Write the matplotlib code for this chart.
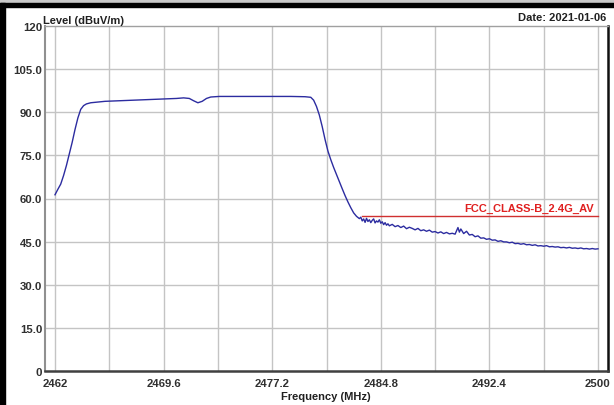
import matplotlib
matplotlib.use("Agg")
import matplotlib.pyplot as plt
from matplotlib.patches import Rectangle

plt.rcParams['font.family'] = ['Liberation Sans', 'DejaVu Sans']

# measured trace (MHz, dBuV/m)
freq = [2462.0, 2462.2, 2462.4, 2462.6, 2462.8, 2463.0, 2463.2, 2463.4, 2463.6, 2463.8,
        2464.0, 2464.2, 2464.5, 2464.9, 2465.5, 2466.5, 2467.5, 2468.5, 2469.5, 2470.5,
        2471.0, 2471.4, 2471.7, 2472.0, 2472.3, 2472.6, 2472.9, 2473.5, 2475.0, 2477.0,
        2478.5, 2479.5, 2479.9, 2480.1, 2480.3, 2480.5, 2480.7, 2480.9, 2481.1, 2481.3,
        2481.5, 2481.7, 2481.9, 2482.1, 2482.3, 2482.5, 2482.7, 2482.9, 2483.1, 2483.3,
        2483.4, 2483.5, 2483.6, 2483.7, 2483.8, 2483.9, 2484.0, 2484.1, 2484.2, 2484.3,
        2484.4, 2484.5, 2484.6, 2484.7, 2484.8, 2484.9, 2485.0, 2485.1, 2485.2, 2485.3,
        2485.4, 2485.6, 2485.8, 2486.0, 2486.2, 2486.4, 2486.6, 2486.8, 2487.0, 2487.2,
        2487.4, 2487.6, 2487.8, 2488.0, 2488.2, 2488.4, 2488.6, 2488.8, 2489.0, 2489.2,
        2489.4, 2489.6, 2489.8, 2490.0, 2490.2, 2490.3, 2490.4, 2490.6, 2490.8, 2491.0,
        2491.2, 2491.4, 2491.6, 2491.8, 2492.0, 2492.2, 2492.4, 2492.6, 2492.8, 2493.0,
        2493.2, 2493.4, 2493.6, 2493.8, 2494.0, 2494.2, 2494.4, 2494.6, 2494.8, 2495.0,
        2495.2, 2495.4, 2495.6, 2495.8, 2496.0, 2496.2, 2496.4, 2496.6, 2496.8, 2497.0,
        2497.2, 2497.4, 2497.6, 2497.8, 2498.0, 2498.2, 2498.4, 2498.6, 2498.8, 2499.0,
        2499.2, 2499.4, 2499.6, 2499.8, 2500.0]
level = [61.3, 63.2, 65.0, 68.0, 71.5, 75.5, 79.5, 84.0, 88.0, 91.0,
         92.3, 92.9, 93.3, 93.5, 93.8, 94.0, 94.2, 94.4, 94.6, 94.8,
         95.0, 94.8, 94.0, 93.3, 93.8, 94.8, 95.3, 95.5, 95.5, 95.5,
         95.5, 95.4, 95.2, 94.2, 92.0, 89.0, 85.0, 80.5, 76.5, 73.5,
         70.8, 68.3, 65.8, 63.4, 61.0, 58.8, 56.8, 55.0, 53.8, 53.0,
         53.5, 52.2, 52.9, 51.7, 53.1, 52.0, 52.6, 51.6, 52.4, 52.9,
         51.5, 52.2, 51.8, 52.6, 51.4, 51.9, 50.9, 51.6, 50.7, 51.2,
         50.5, 51.0, 50.2, 50.6, 49.9, 50.4, 49.5, 50.0, 49.6, 49.1,
         49.6, 48.8, 49.1, 48.6, 49.0, 48.3, 48.5, 48.0, 48.4, 47.8,
         48.2, 47.7, 47.9, 47.6, 49.9, 48.3, 49.4, 47.8, 48.6, 47.3,
         47.5, 46.7, 47.0, 46.2, 46.3, 45.8, 46.0, 45.5, 45.6, 45.1,
         45.3, 44.9, 44.9, 44.6, 44.8, 44.3, 44.4, 44.1, 44.3, 43.9,
         44.0, 43.7, 43.9, 43.5, 43.6, 43.4, 43.6, 43.2, 43.3, 43.1,
         43.2, 42.9, 43.0, 42.8, 43.0, 42.7, 42.8, 42.6, 42.8, 42.5,
         42.6, 42.4, 42.6, 42.4, 42.5]

limit_freq = [2483.5, 2500.0]
limit_level = [54.0, 54.0]
limit_name = "FCC_CLASS-B_2.4G_AV"

xticks = [2462, 2469.6, 2477.2, 2484.8, 2492.4, 2500]
xgrid = [2462 + 3.8 * k for k in range(11)]
yticks = [0, 15, 30, 45, 60, 75, 90, 105, 120]
ylabels = ["0", "15.0", "30.0", "45.0", "60.0", "75.0", "90.0", "105.0", "120"]

fig = plt.figure(figsize=(6.14, 4.06), dpi=100)
ax = fig.add_axes([45 / 614, 34 / 406, 563 / 614, 345 / 406])

pad = 0.7
ax.set_xlim(2462 - pad, 2500 + pad)
ax.set_ylim(0, 120)

for x in xgrid:
    ax.plot([x, x], [0, 120], color="#c4c4c4", lw=1.0, zorder=1)
for y in yticks[1:-1]:
    ax.plot([2462 - pad, 2500], [y, y], color="#c4c4c4", lw=1.0, zorder=1)

ax.plot(freq, level, color="#2c2ca0", lw=1.0, zorder=3)
ax.plot(limit_freq, limit_level, color="#d03030", lw=1.0, zorder=2)
ax.text(2499.7, 55.0, limit_name, color="#e02020", fontsize=8, fontweight="bold",
        ha="right", va="bottom")

ax.set_xticks(xticks)
ax.set_xticklabels(["2462", "2469.6", "2477.2", "2484.8", "2492.4", "2500"])
ax.set_yticks(yticks)
ax.set_yticklabels(ylabels)
ax.tick_params(length=0, labelsize=8.2, labelcolor="#303030")
ax.tick_params(axis="x", pad=5)
ax.tick_params(axis="y", pad=2)
for lab in ax.get_xticklabels() + ax.get_yticklabels():
    lab.set_fontweight("bold")

ax.spines["left"].set_color("#909090")
ax.spines["left"].set_linewidth(1.5)
ax.spines["top"].set_color("#a0a0a0")
ax.spines["top"].set_linewidth(1.0)
ax.spines["bottom"].set_color("#404040")
ax.spines["bottom"].set_linewidth(1.8)
ax.spines["right"].set_color("#101010")
ax.spines["right"].set_linewidth(1.8)

fig.text(43 / 614, 1 - 24 / 406, "Level (dBuV/m)", fontsize=8, fontweight="bold",
         color="#202020", ha="left", va="baseline")
fig.text(606 / 614, 1 - 21 / 406, "Date: 2021-01-06", fontsize=8, fontweight="bold",
         color="#202020", ha="right", va="baseline")
fig.text(326 / 614, 1 - 400 / 406, "Frequency (MHz)", fontsize=8, fontweight="bold",
         color="#202020", ha="center", va="baseline")

# screenshot frame
fig.patches.append(Rectangle((0, 1 - 4 / 406), 1, 4 / 406, transform=fig.transFigure,
                             color="#c8c8c8", zorder=0))
fig.patches.append(Rectangle((0, 1 - 8 / 406), 1, 4 / 406, transform=fig.transFigure,
                             color="#000000", zorder=0))
fig.patches.append(Rectangle((0, 0), 5 / 614, 1 - 4 / 406, transform=fig.transFigure,
                             color="#000000", zorder=0))

fig.savefig("out.png", dpi=100)
